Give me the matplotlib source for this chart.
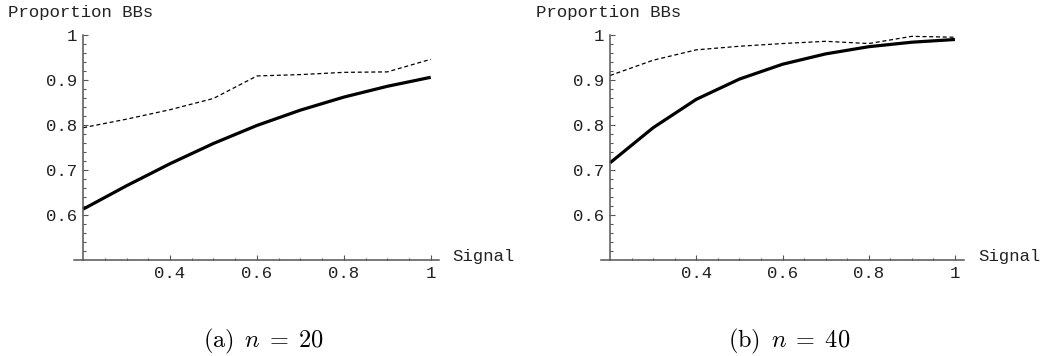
import matplotlib
matplotlib.use("Agg")
import matplotlib.pyplot as plt

plt.rcParams["mathtext.fontset"] = "cm"

signal = [0.2, 0.3, 0.4, 0.5, 0.6, 0.7, 0.8, 0.9, 1.0]

# n = 20
bb_n20 = [0.613, 0.665, 0.714, 0.759, 0.799, 0.833, 0.862, 0.886, 0.906]
bb_n20_sim = [0.794, 0.813, 0.834, 0.859, 0.909, 0.912, 0.917, 0.918, 0.946]

# n = 40
bb_n40 = [0.716, 0.794, 0.857, 0.902, 0.935, 0.958, 0.974, 0.984, 0.990]
bb_n40_sim = [0.910, 0.944, 0.967, 0.975, 0.981, 0.986, 0.981, 0.997, 0.995]

xticks = [0.4, 0.6, 0.8, 1.0]
xtick_labels = ["0.4", "0.6", "0.8", "1"]
yticks = [0.6, 0.7, 0.8, 0.9, 1.0]
ytick_labels = ["0.6", "0.7", "0.8", "0.9", "1"]
captions = [r"$\mathrm{(a)}\ \,n\;=\;20$", r"$\mathrm{(b)}\ \,n\;=\;40$"]

W, H = 1045, 356
MONO = "Liberation Mono"
AXIS = "#555555"
TXT = "#222222"
FS = 12.5


def px(x, y):
    return x / W, 1 - y / H


def draw_panel(ax, solid, dashed, xmax):
    ax.plot(signal, dashed, color="black", lw=0.9, dashes=(3.2, 2.2))
    ax.plot(signal, solid, color="black", lw=2.3, solid_capstyle="butt",
            solid_joinstyle="round")
    ax.set_xlim(0.179, xmax)
    ax.set_ylim(0.5, 1.0)
    for s in ("top", "right"):
        ax.spines[s].set_visible(False)
    ax.spines["left"].set_position(("data", 0.2))
    ax.spines["bottom"].set_position(("data", 0.5))
    for s in ("left", "bottom"):
        ax.spines[s].set_color(AXIS)
        ax.spines[s].set_linewidth(1.1)
    ax.set_xticks(xticks, xtick_labels)
    ax.set_yticks(yticks, ytick_labels)
    ax.set_xticks([0.25, 0.3, 0.35, 0.45, 0.5, 0.55, 0.65, 0.7, 0.75,
                   0.85, 0.9, 0.95], minor=True)
    ax.set_yticks([v / 100 for v in range(52, 100, 2) if v % 10], minor=True)
    ax.tick_params(which="both", direction="in", color=AXIS, width=0.8)
    ax.tick_params(which="major", length=3.5, pad=4.5, labelsize=FS,
                   labelcolor=TXT)
    ax.tick_params(which="minor", length=1.8)
    for lab in ax.get_xticklabels() + ax.get_yticklabels():
        lab.set_fontfamily(MONO)
    ax.patch.set_visible(False)


fig = plt.figure(figsize=(W / 100, H / 100), dpi=100)

ax1 = fig.add_axes([74 / W, 1 - 260 / H, 365 / W, 225 / H])
draw_panel(ax1, bb_n20, bb_n20_sim, 1.019)
ax2 = fig.add_axes([601 / W, 1 - 260 / H, 363 / W, 225 / H])
draw_panel(ax2, bb_n40, bb_n40_sim, 1.021)

for (lx, sx) in ((8, 452), (536, 978)):
    fig.text(*px(lx, 13), "Proportion BBs", family=MONO, fontsize=FS,
             color=TXT, ha="left", va="center")
    fig.text(*px(sx, 257), "Signal", family=MONO, fontsize=FS,
             color=TXT, ha="left", va="center")

for cx, cap in zip((263, 789), captions):
    fig.text(*px(cx, 341), cap, fontsize=17.5, ha="center", va="center",
             color="black")

fig.savefig("out.png", dpi=100)
